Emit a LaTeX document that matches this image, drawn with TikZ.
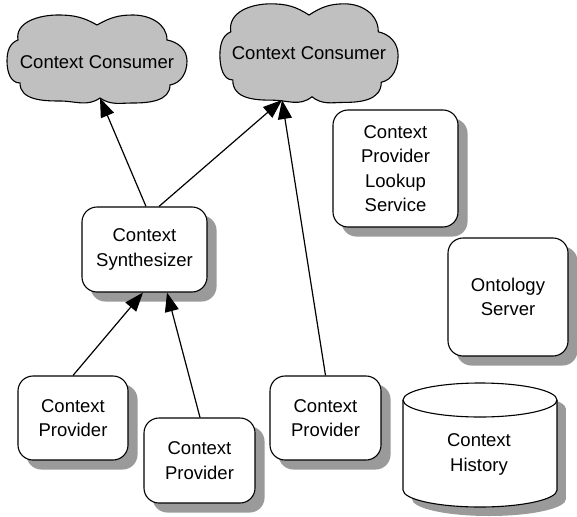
\documentclass[tikz,border=0pt]{standalone}
\usepackage{fontspec}
\setmainfont{Liberation Sans}
\usetikzlibrary{backgrounds,arrows.meta}
\definecolor{shadowgray}{RGB}{154,154,154}
\definecolor{cloudgray}{RGB}{192,192,192}
\begin{document}
\begin{tikzpicture}[x=1pt,y=1pt,
  txt/.style={font=\fontsize{18.5}{24.5}\selectfont, align=center},
  box/.style={txt, draw, line width=1.1pt, rounded corners=15pt, fill=white, inner sep=0pt},
  shadowbox/.style={fill=shadowgray, rounded corners=15pt},
  cloudline/.style={draw, line width=1.1pt, fill=cloudgray},
  arr/.style={line width=1.2pt, -{Triangle[length=19pt,width=14pt]}}
]
\useasboundingbox (0,0) rectangle (577,-516);
% consumers (cloud outlines)
\begin{scope}[shift={(97,-58)}, xscale=1, yscale=1]
\path[cloudline] (-77,-25) to[out=180,in=-90] (-90,-3) to[out=90,in=200] (-79,18)
  to[out=100,in=180] (-39,43) to[out=0,in=150] (0,33)
  to[out=30,in=180] (36,43) to[out=0,in=90] (70,18)
  to[out=-10,in=90] (90,-3) to[out=-90,in=10] (73,-27)
  to[out=-90,in=0] (36,-45) to[out=180,in=-35] (3,-40)
  to[out=-145,in=0] (-37,-43) to[out=180,in=-90] cycle;
\end{scope}
\begin{scope}[shift={(309,-52)}, xscale=0.99, yscale=1.12]
\path[cloudline] (-77,-25) to[out=180,in=-90] (-90,-3) to[out=90,in=200] (-79,18)
  to[out=100,in=180] (-39,43) to[out=0,in=150] (0,33)
  to[out=30,in=180] (36,43) to[out=0,in=90] (70,18)
  to[out=-10,in=90] (90,-3) to[out=-90,in=10] (73,-27)
  to[out=-90,in=0] (36,-45) to[out=180,in=-35] (3,-40)
  to[out=-145,in=0] (-37,-43) to[out=180,in=-90] cycle;
\end{scope}
\node[txt] (c1) at (97,-62) {Context Consumer};
\node[txt] (c2) at (309,-53) {Context Consumer};
% boxes
\node[box, minimum width=125pt, minimum height=85pt] (synth) at (144.5,-249.5) {Context\\Synthesizer};
\node[box, minimum width=110pt, minimum height=84pt] (p1) at (73,-418) {Context\\Provider};
\node[box, minimum width=111pt, minimum height=85pt] (p2) at (199.5,-460.5) {Context\\Provider};
\node[box, minimum width=111pt, minimum height=84pt] (p3) at (325.5,-418) {Context\\Provider};
\node[box, minimum width=125pt, minimum height=117pt] (lookup) at (395.5,-168.5) {Context\\Provider\\Lookup\\Service};
\node[box, minimum width=120pt, minimum height=118pt] (onto) at (508,-297) {Ontology\\Server};
% cylinder
\draw[line width=1.1pt, fill=white] (403,-400) -- (403,-490) arc[start angle=180,end angle=360,x radius=77,y radius=17] -- (557,-400) arc[start angle=0,end angle=180,x radius=77,y radius=17] -- cycle;
\draw[line width=1.1pt] (403,-400) arc[start angle=180,end angle=360,x radius=77,y radius=17];
\node[txt] (hist) at (479,-454.5) {Context\\History};
% shadows
\begin{scope}[on background layer]
\foreach \n in {synth,p1,p2,p3,lookup,onto}{
  \path[shadowbox] ([shift={(9,-9)}]\n.south west) rectangle ([shift={(9,-9)}]\n.north east);
}
\fill[shadowgray] (412,-409) rectangle (566,-499);
\fill[shadowgray] (489,-499) ellipse [x radius=77, y radius=17];
\fill[shadowgray] (489,-409) ellipse [x radius=77, y radius=17];
\end{scope}
% connectors
\coordinate (c1in) at (100,-98);
\coordinate (c2in) at (282,-100);
\draw[arr] ([xshift=1.5pt]synth.north) -- (c1in);
\draw[arr] ([xshift=14.5pt]synth.north) -- (c2in);
\draw[arr] (p3.north) -- (c2in);
\draw[arr] (p1.north) -- ([xshift=-1.5pt]synth.south);
\draw[arr] ([xshift=0.5pt]p2.north) -- ([xshift=22.5pt]synth.south);
\end{tikzpicture}
\end{document}
